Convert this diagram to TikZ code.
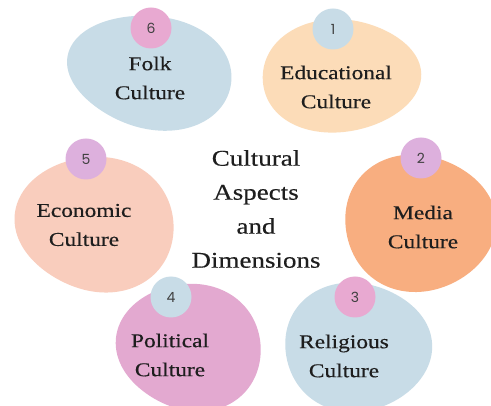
\documentclass[tikz,border=0pt]{standalone}
\usepackage{fontspec}
\setmainfont{Liberation Serif}[FakeStretch=1.2, FakeBold=0.4]
\newfontfamily\badgefont{Poppins}
\definecolor{lblue}{HTML}{C8DCE7}
\definecolor{peach}{HTML}{FCDCB8}
\definecolor{salmon}{HTML}{F9CDBD}
\definecolor{orangec}{HTML}{F8AE80}
\definecolor{pinkc}{HTML}{E3A9D0}
\definecolor{badgepink}{HTML}{E8A9D1}
\definecolor{lilac}{HTML}{DDB0DD}
\definecolor{txt}{HTML}{1E1E1E}
\tikzset{
  badge/.style={circle, minimum size=41pt, inner sep=0pt, text=txt!85,
    font=\badgefont\fontsize{14}{14}\selectfont},
  blabel/.style={align=center, text=txt, font=\fontsize{19.5}{29}\selectfont},
  clabel/.style={align=center, text=txt, font=\fontsize{22.5}{34}\selectfont}
}
% \blobshape{colour}{cx}{cy}{rx}{ry}{rotation}{phi2}{phi3}
\newcommand\blobshape[8]{%
  \fill[#1, shift={(#2,#3)}, rotate=#6]
    plot[domain=0:360, samples=72, smooth cycle, variable=\t]
    ({#4*cos(\t)*(1+0.02*cos(2*\t-#7)+0.025*cos(3*\t-#8))},
     {#5*sin(\t)*(1+0.02*cos(2*\t-#7)+0.025*cos(3*\t-#8))});}
\begin{document}
\begin{tikzpicture}[x={(1pt,0)}, y={(0,-1pt)}]
\useasboundingbox (0,0) rectangle (491,406);
\fill[white] (0,0) rectangle (491,406);
% blobs
\blobshape{lblue}{151}{72}{82}{57}{-8}{60}{200}
\blobshape{peach}{340}{76}{80}{56}{5}{120}{20}
\blobshape{salmon}{96}{224}{79}{68}{-5}{60}{180}
\blobshape{orangec}{419}{223}{76}{68}{5}{120}{0}
\blobshape{pinkc}{190}{347}{72}{64}{-5}{60}{180}
\blobshape{lblue}{357}{347}{74}{64}{5}{120}{0}
% badges
\node[badge, fill=badgepink] (b6) at (151,28) {6};
\node[badge, fill=lblue] (b1) at (333,29) {1};
\node[badge, fill=lilac] (b5) at (86,159) {5};
\node[badge, fill=lilac] (b2) at (421,158) {2};
\node[badge, fill=lblue] (b4) at (171,297) {4};
\node[badge, fill=badgepink] (b3) at (355,297) {3};
% labels
\node[blabel] (folk) at (150,78) {Folk\\Culture};
\node[blabel] (edu) at (336,87) {Educational\\Culture};
\node[blabel] (eco) at (84,225) {Economic\\Culture};
\node[blabel] (media) at (423,227) {Media\\Culture};
\node[blabel] (pol) at (170,355) {Political\\Culture};
\node[blabel] (rel) at (344,356) {Religious\\Culture};
\node[clabel] (center) at (256,209) {Cultural\\Aspects\\and\\Dimensions};
\end{tikzpicture}
\end{document}
